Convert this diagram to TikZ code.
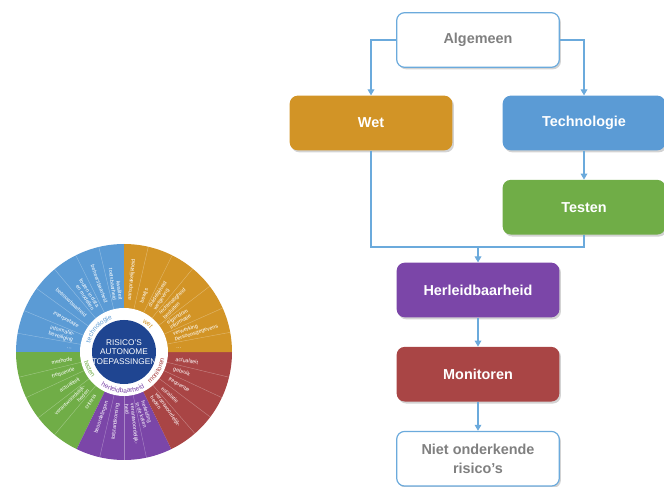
\documentclass[tikz,border=0pt]{standalone}
\usepackage{fontspec}
\setmainfont{Liberation Sans}
\usepackage{tikz}
\usetikzlibrary{arrows.meta,positioning,shadows,calc,decorations.text}
\usepackage{xcolor}
\definecolor{rkblue}{RGB}{91,155,213}
\definecolor{rkorange}{RGB}{210,148,38}
\definecolor{rkgreen}{RGB}{112,173,71}
\definecolor{rkpurple}{RGB}{123,70,168}
\definecolor{rkred}{RGB}{169,69,69}
\definecolor{rknavy}{RGB}{31,69,145}
\definecolor{rkgrey}{RGB}{128,128,128}
\definecolor{rkline}{RGB}{107,170,220}
\newcommand{\ringfont}{\fontsize{5}{5}\selectfont}
\tikzstyle{flowarrow} = [-{Triangle[width=5pt,length=4.5pt]}, line width=0.9pt, color=rkline]
\tikzstyle{flowline} = [line width=0.9pt, color=rkline]
\tikzstyle{stap} = [rectangle, rounded corners=6pt, minimum width=122pt, minimum height=41pt, text centered, align=center, text=white, font=\fontsize{10.8}{14}\selectfont\bfseries, drop shadow={opacity=0.35, shadow xshift=1.2pt, shadow yshift=-1.5pt}]
\tikzstyle{grens} = [stap, draw=rkline, line width=0.9pt, fill=white, text=rkgrey]
\tikzstyle{item} = [text=white, inner sep=0pt, font=\fontsize{4}{4.5}\selectfont]
\tikzstyle{divider} = [white, opacity=0.35, line width=0.3pt]

\begin{document}
\begin{tikzpicture}[x=0.75pt, y=0.75pt]
\useasboundingbox (0,0) rectangle (664,486);

% Wheel
\coordinate (c) at (124,134);
\fill[rkblue] (c) -- ++(90:108) arc (90:180:108) -- cycle;
\fill[rkgreen] (c) -- ++(180:108) arc (180:244:108) -- cycle;
\fill[rkpurple] (c) -- ++(244:108) arc (244:296:108) -- cycle;
\fill[rkred] (c) -- ++(296:108) arc (296:360:108) -- cycle;
\fill[rkorange] (c) -- ++(0:108) arc (0:90:108) -- cycle;
\foreach \a in {103.5,116.5,130,144,157.5,170,193.5,205,217.5,230,257,270,282,-13.5,-25,-37,-49,10.5,24,37.5,50.5,63.5,77}
  \draw[divider] (c) ++(\a:44) -- ++(\a:64);
\fill[white] (c) circle (44);
\fill[rknavy] (c) circle (32);
\node[text=white, align=center, font=\fontsize{6.2}{7}\selectfont] (kern) at (c) {RISICO’S\\AUTONOME\\TOEPASSINGEN};

% Ring labels
\path[decorate, decoration={text along path, text align=center, text={|\ringfont\color{rkblue}|technologie}}] (c) ++(165:35) arc (165:110:35);
\path[decorate, decoration={text along path, text align=center, text={|\ringfont\color{rkorange}|wet}}] (c) ++(70:35) arc (70:30:35);
\path[decorate, decoration={text along path, text align=center, text={|\ringfont\color{rkred}|monitoren}}] (c) ++(-62:41) arc (-62:2:41);
\path[decorate, decoration={text along path, text align=center, text={|\ringfont\color{rkpurple}|herleidbaarheid}}] (c) ++(-137:41) arc (-137:-47:41);
\path[decorate, decoration={text along path, text align=center, text={|\ringfont\color{rkgreen}|testen}}] (c) ++(186:41) arc (186:226:41);

% Items
\foreach \a/\t in {97/{kwaliteit\\toetsbaarheid},110/beheersbaarheid,123/{fouten in data\\en modellen},137/betrouwbaarheid,151/interpretatie,164/{informatie-\\beveiliging},176/\ldots,188/methode,199/frequentie,211/actualiteit,224/{verantwoordelijk-\\heden},236/criteria,251/beoordelingen,263/totstandkoming}
  \node[item, anchor=east, align=right, rotate=\a-180] at ($(c)+(\a:52)$) {\t};
\foreach \a/\t in {84/aansprakelijkheid,70/bewijs,57/{duidelijkheid\\wetgeving},44/{rechtmatigheid\\besluiten},31/{eigendom\\informatie},17/{verwerking\\persoonsgegevens},4/\ldots,-8/actualiteit,-19/gebruik,-31/frequentie,-43/escalatie,-55/{verantwoordelijk-\\heden},-72/{herleiding\\in de keten},-84/{verantwoordelijk-\\heid}}
  \node[item, anchor=west, align=left, rotate=\a] at ($(c)+(\a:52)$) {\t};

% Flow
\node[grens] (alg) at (478,446) {Algemeen};
\node[stap, fill=rkorange] (wet) at (371,363) {Wet};
\node[stap, fill=rkblue] (tech) at (584,363) {Technologie};
\node[stap, fill=rkgreen, below=21.75pt of tech] (testen) {Testen};
\node[stap, fill=rkpurple] (herl) at (478,196) {Herleidbaarheid};
\node[stap, fill=rkred, below=21.75pt of herl] (mon) {Monitoren};
\node[grens, below=21.75pt of mon] (niet) {Niet onderkende\\risico’s};

\draw[flowarrow] (alg.west) -| (wet);
\draw[flowarrow] (alg.east) -| (tech);
\draw[flowarrow] (tech) -- (testen);
\coordinate (samen) at (478,239);
\draw[flowline] (wet) |- (samen);
\draw[flowline] (testen) |- (samen);
\draw[flowarrow] (samen) -- (herl);
\draw[flowarrow] (herl) -- (mon);
\draw[flowarrow] (mon) -- (niet);
\end{tikzpicture}
\end{document}
